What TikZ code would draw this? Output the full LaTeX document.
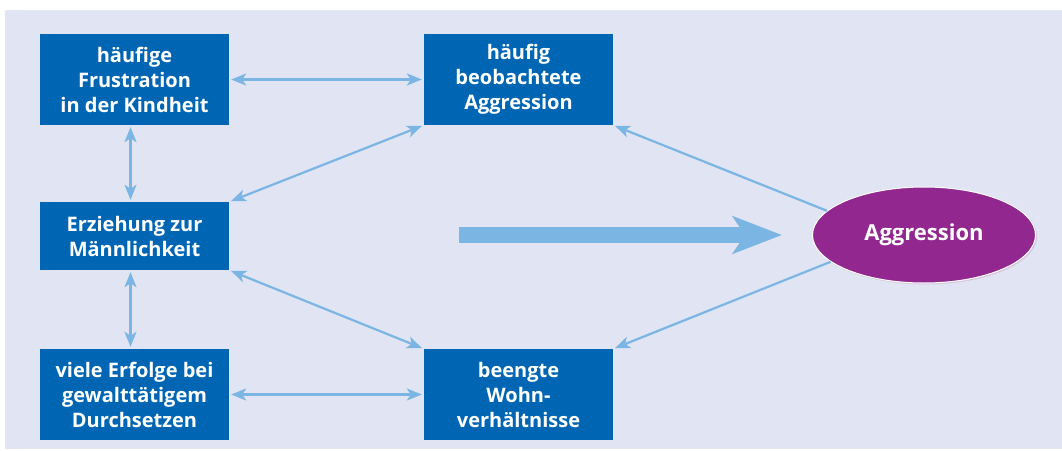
\documentclass[tikz,border=0pt]{standalone}
\usepackage{fontspec}
\setmainfont{Open Sans}
\usetikzlibrary{arrows.meta,shapes.geometric,shadows}
\definecolor{bgcol}{RGB}{225,228,242}
\definecolor{boxblue}{RGB}{0,102,179}
\definecolor{arrblue}{RGB}{123,181,228}
\definecolor{aggpurple}{RGB}{146,39,143}
\tikzset{
  factor/.style={fill=boxblue, text=white, font=\bfseries\fontsize{20}{25}\selectfont,
    align=center, minimum width=189pt, inner sep=0pt},
  tall/.style={minimum height=91pt},
  short/.style={minimum height=68pt},
  link/.style={draw=arrblue, line width=2.2pt, {Stealth[length=15pt,width=12pt,inset=4pt]}-{Stealth[length=15pt,width=12pt,inset=4pt]}, shorten <=2pt, shorten >=2pt},
  oneway/.style={draw=arrblue, line width=2.2pt, -{Stealth[length=15pt,width=12pt,inset=4pt]}, shorten >=2pt},
  bigarrow/.style={draw=arrblue, line width=16pt, -{Stealth[length=49pt,width=37pt,inset=12pt]}},
  aggnode/.style={ellipse, fill=aggpurple, draw=white, line width=1pt, text=white,
    font=\bfseries\fontsize{22}{26}\selectfont, minimum width=223pt, minimum height=96pt, inner sep=0pt,
    drop shadow={shadow xshift=1.5pt, shadow yshift=-1.5pt, fill=aggpurple!40, opacity=0.5}}
}
\begin{document}
\begin{tikzpicture}[x=1pt,y=-1pt]
\useasboundingbox (0,0) rectangle (1062,450);
\fill[bgcol] (5,10) rectangle (1062,449);
\node[factor,tall] (B1) at (134.5,79.5) {häufige\\Frustration\\in der Kindheit};
\node[factor,tall] (B2) at (518.5,79.5) {häufig\\beobachtete\\Aggression};
\node[factor,short] (B3) at (134.5,236) {Erziehung zur\\Männlichkeit};
\node[factor,tall] (B4) at (134.5,394.5) {viele Erfolge bei\\gewalttätigem\\Durchsetzen};
\node[factor,tall] (B5) at (518.5,394.5) {beengte\\Wohn-\\verhältnisse};
\node[aggnode] (A) at (924,235) {Aggression};
\coordinate (bigS) at (459,235);
\coordinate (bigE) at (782,235);
\draw[bigarrow] (bigS) -- (bigE);
\draw[link] (B1) -- (B2);
\draw[link] (B4) -- (B5);
\draw[link] ([xshift=-4pt]B1.south) -- ([xshift=-4pt]B3.north);
\draw[link] ([xshift=-4pt]B3.south) -- ([xshift=-4pt]B4.north);
\draw[link] (B3.north east) -- (B2.south west);
\draw[link] (B3.south east) -- (B5.north west);
\draw[oneway] (A.166) -- (B2.south east);
\draw[oneway] (A.196) -- (B5.north east);
\end{tikzpicture}
\end{document}
